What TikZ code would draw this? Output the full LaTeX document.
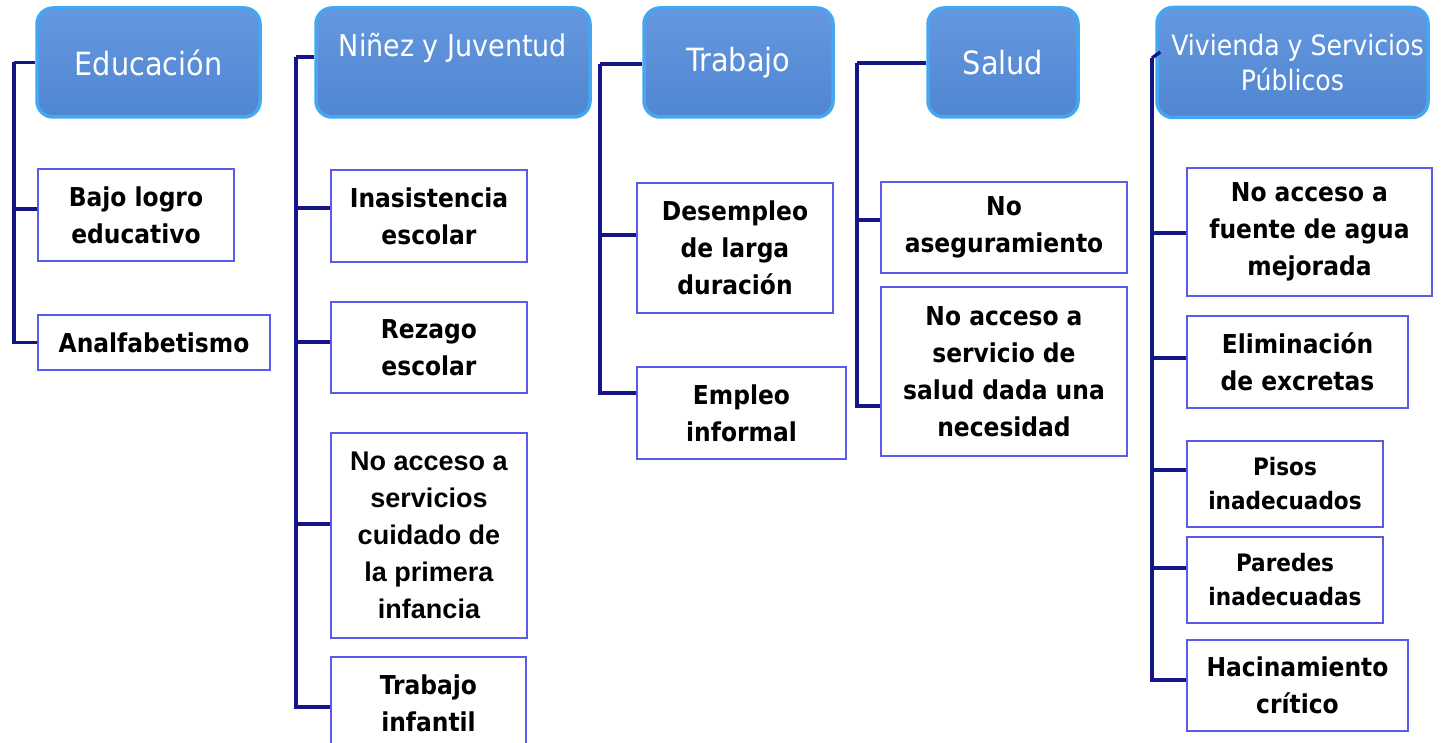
\documentclass[tikz,border=0pt]{standalone}
\usepackage{fontspec}
\setmainfont{DejaVu Sans Condensed}
\newfontfamily\arialb{Liberation Sans}
\begin{document}
\begin{tikzpicture}[x=1pt,y=-1pt,
  head/.style={draw=hdborder, line width=3.5pt, rounded corners=16pt, top color=hdtop, bottom color=hdbot,
     text=white, font=\fontsize{32}{35}\selectfont, align=center, inner sep=0pt},
  item/.style={draw=itborder, line width=1.8pt, fill=white, text=black,
     font=\bfseries\fontsize{26}{37}\selectfont, align=center, inner sep=0pt},
  conn/.style={draw=connc, line width=3.3pt}]
\definecolor{hdborder}{HTML}{45A6F2}
\definecolor{hdtop}{HTML}{6498E0}
\definecolor{hdbot}{HTML}{5085D0}
\definecolor{itborder}{HTML}{5B5BEB}
\definecolor{connc}{HTML}{15158A}
\useasboundingbox (0,0) rectangle (1441,743);
\fill[white] (0,0) rectangle (1441,743);

% headers
\node[head, minimum width=223pt, minimum height=109pt] (eduH) at (148.5,62.5) {Educación};
\node[head, minimum width=274pt, minimum height=109pt, font=\fontsize{30}{35}\selectfont] (ninH) at (453,62.5) {Niñez y Juventud\\~};
\node[head, minimum width=189pt, minimum height=109pt] (traH) at (738.5,62.5) {Trabajo};
\node[head, minimum width=150pt, minimum height=109pt] (salH) at (1003,62.5) {Salud};
\node[head, minimum width=271pt, minimum height=110pt, font=\fontsize{28}{35}\selectfont] (vivH) at (1292.5,62.5) {\hspace*{10pt}Vivienda y Servicios\\Públicos};

% Educación items
\node[item, minimum width=196pt, minimum height=92pt] (edu1) at (136,215) {Bajo logro\\educativo};
\node[item, minimum width=232pt, minimum height=55pt] (edu2) at (154,342.5) {Analfabetismo};
% Niñez items
\node[item, minimum width=196pt, minimum height=92pt] (nin1) at (429,216) {Inasistencia\\escolar};
\node[item, minimum width=196pt, minimum height=91pt] (nin2) at (429,347.5) {Rezago\\escolar};
\node[item, minimum width=196pt, minimum height=205pt, font=\arialb\bfseries\fontsize{27}{37}\selectfont] (nin3) at (429,535.5) {No acceso a\\servicios\\cuidado de\\la primera\\infancia};
\node[item, minimum width=195pt, minimum height=92pt] (nin4) at (428.5,703) {Trabajo\\infantil};
% Trabajo items
\node[item, minimum width=196pt, minimum height=130pt] (tra1) at (735,248) {Desempleo\\de larga\\duración};
\node[item, minimum width=209pt, minimum height=92pt] (tra2) at (741.5,413) {Empleo\\informal};
% Salud items
\node[item, minimum width=246pt, minimum height=91pt] (sal1) at (1004,227.5) {No\\aseguramiento};
\node[item, minimum width=246pt, minimum height=169pt] (sal2) at (1004,371.5) {No acceso a\\servicio de\\salud dada una\\necesidad};
% Vivienda items
\node[item, minimum width=245pt, minimum height=128pt] (viv1) at (1309.5,232) {No acceso a\\fuente de agua\\mejorada};
\node[item, minimum width=221pt, minimum height=92pt] (viv2) at (1297.5,362) {Eliminación\\de excretas};
\node[item, minimum width=196pt, minimum height=86pt, font=\bfseries\fontsize{24}{34}\selectfont] (viv3) at (1285,484) {Pisos\\inadecuados};
\node[item, minimum width=196pt, minimum height=86pt, font=\bfseries\fontsize{24}{34}\selectfont] (viv4) at (1285,580) {Paredes\\inadecuadas};
\node[item, minimum width=221pt, minimum height=91pt] (viv5) at (1297.5,685.5) {Hacinamiento\\crítico};

% trunks
\coordinate (eT) at (14,62.5);
\coordinate (nT) at (296,57);
\coordinate (tT) at (600,64);
\coordinate (sT) at (857,63);
\coordinate (vT) at (1152,58);

\draw[conn] ([yshift=0pt]eduH.west) -- (eT);
\draw[conn] ([yshift=6pt]edu1.west) -| (eT);
\draw[conn] (edu2.west) -| (eT);

\draw[conn] ([yshift=5.5pt]ninH.west) -- (nT);
\draw[conn] ([yshift=8pt]nin1.west) -| (nT);
\draw[conn] ([yshift=5.5pt]nin2.west) -| (nT);
\draw[conn] ([yshift=11.5pt]nin3.west) -| (nT);
\draw[conn] ([yshift=-4pt]nin4.west) -| (nT);

\draw[conn] ([yshift=-1.5pt]traH.west) -- (tT);
\draw[conn] ([yshift=13pt]tra1.west) -| (tT);
\draw[conn] ([yshift=20pt]tra2.west) -| (tT);

\draw[conn] ([yshift=-0.5pt]salH.west) -- (sT);
\draw[conn] ([yshift=7.5pt]sal1.west) -| (sT);
\draw[conn] ([yshift=-34.5pt]sal2.west) -| (sT);

\draw[conn] ([xshift=5pt,yshift=10.5pt]vivH.west) -- (vT);
\draw[conn] ([yshift=-1pt]viv1.west) -| (vT);
\draw[conn] ([yshift=4pt]viv2.west) -| (vT);
\draw[conn] ([yshift=14pt]viv3.west) -| (vT);
\draw[conn] ([yshift=12pt]viv4.west) -| (vT);
\draw[conn] ([yshift=5.5pt]viv5.west) -| (vT);
\end{tikzpicture}
\end{document}
